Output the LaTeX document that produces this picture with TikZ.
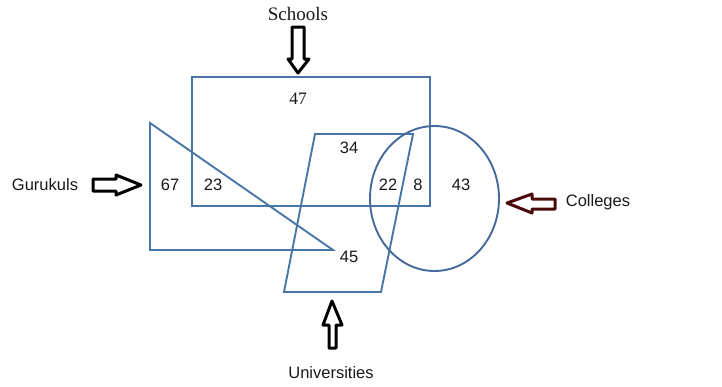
\documentclass[tikz,border=0pt]{standalone}
\usepackage{fontspec}
\setmainfont{Liberation Sans}
\newfontfamily\seriffont{Liberation Serif}
\definecolor{setblue}{RGB}{72,118,166}
\definecolor{ellblue}{RGB}{70,105,155}
\definecolor{maroon}{RGB}{75,10,10}
\definecolor{txt}{RGB}{25,25,25}
\tikzset{
  setline/.style={draw=setblue, line width=1.9pt},
  blockarrow/.style={draw=black, line width=3pt, line join=round, fill=white},
  lbl/.style={text=txt, font=\fontsize{16.5}{18}\selectfont, inner sep=0pt},
  num/.style={text=txt, font=\fontsize{16.5}{18}\selectfont, inner sep=0pt},
  slbl/.style={text=txt, font=\seriffont\fontsize{19}{21}\selectfont, inner sep=0pt}
}
\begin{document}
\begin{tikzpicture}[x=1pt,y=-1pt]
\useasboundingbox (0,0) rectangle (722,386);
% sets
\draw[setline] (192,77) rectangle (430,206);
\draw[setline, line join=miter] (150,123) -- (150,250) -- (333,250) -- cycle;
\draw[setline] (315,134) -- (413,134) -- (381,292) -- (284,292) -- cycle;
\draw[draw=ellblue, line width=1.9pt] (434.5,198.5) ellipse [x radius=64.5, y radius=72.5];
% labels
\node[slbl] (schools) at (298,14) {Schools};
\node[lbl] (gurukuls) at (45,185) {Gurukuls};
\node[lbl] (colleges) at (598,202) {Colleges};
\node[lbl] (universities) at (331,373) {Universities};
% numbers
\node[slbl, font=\seriffont\fontsize{17.5}{19}\selectfont] (n47) at (298,99) {47};
\node[num] (n34) at (349,148) {34};
\node[num] (n67) at (170,185) {67};
\node[num] (n23) at (213,185) {23};
\node[num] (n22) at (388,185) {22};
\node[num] (n8) at (418,185) {8};
\node[num] (n43) at (461,185) {43};
\node[num] (n45) at (349,257) {45};
% block arrows
\draw[blockarrow] (292,27) -- (304,27) -- (304,59) -- (309,59) -- (298,73) -- (288,59) -- (292,59) -- cycle;
\draw[blockarrow] (93,179) -- (116,179) -- (116,175) -- (141,185) -- (116,195) -- (116,191) -- (93,191) -- cycle;
\draw[blockarrow, draw=maroon] (555,199) -- (532,199) -- (532,194) -- (507,203) -- (532,213) -- (532,209) -- (555,209) -- cycle;
\draw[blockarrow] (329,348) -- (336,348) -- (336,325) -- (342,325) -- (332,301) -- (323,325) -- (329,325) -- cycle;
\end{tikzpicture}
\end{document}
